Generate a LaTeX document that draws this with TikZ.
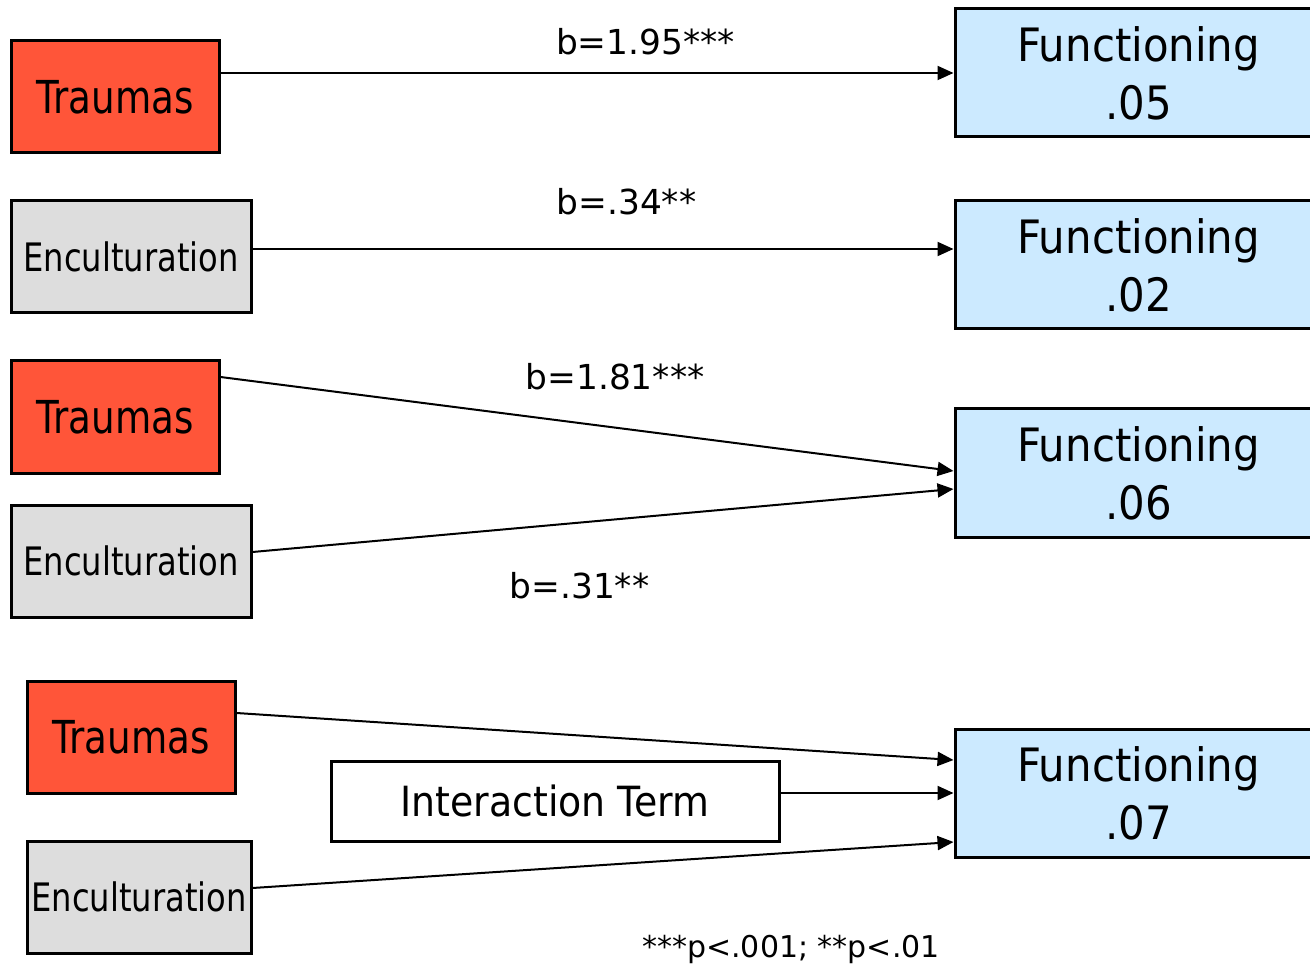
\documentclass[tikz,border=0pt]{standalone}
\usepackage{fontspec}
\setmainfont{DejaVu Sans}
\newfontfamily\boxfont[FakeStretch=0.82]{DejaVu Sans}
\newfontfamily\funcfont[FakeStretch=0.91]{DejaVu Sans}
\usetikzlibrary{arrows.meta}
\definecolor{traumared}{RGB}{255,85,57}
\definecolor{encgray}{RGB}{221,221,221}
\definecolor{funcblue}{RGB}{204,234,255}
\tikzset{
  box/.style={draw, line width=1.5pt, inner sep=0pt},
  trauma/.style={box, fill=traumared, minimum width=104pt, minimum height=56pt,
    font=\boxfont\fontsize{22.7}{26}\selectfont},
  enc/.style={box, fill=encgray, minimum width=120pt, minimum height=56pt,
    font=\boxfont\fontsize{19.6}{23}\selectfont},
  func/.style={box, fill=funcblue, minimum width=183.5pt, minimum height=64pt,
    align=center, font=\funcfont\fontsize{23}{29}\selectfont},
  term/.style={box, fill=white, minimum width=224pt, minimum height=40pt,
    font=\funcfont\fontsize{20.8}{24}\selectfont},
  coef/.style={anchor=base, inner sep=0pt, font=\fontsize{17.2}{20}\selectfont},
  path/.style={line width=1pt, -{Triangle[length=8pt, width=7pt]}}
}
\begin{document}
\begin{tikzpicture}[x=0.5pt, y=-0.5pt]
  \useasboundingbox (0,0) rectangle (1310,967);
  % model 1
  \node[trauma] (t1) at (115,97) {Traumas};
  \node[func] (f1) at (1138.5,73) {Functioning\\.05};
  % model 2
  \node[enc] (e1) at (131,257) {Enculturation};
  \node[func] (f2) at (1138.5,265) {Functioning\\.02};
  % model 3
  \node[trauma] (t2) at (115,417) {Traumas};
  \node[enc] (e2) at (131,561) {Enculturation};
  \node[func] (f3) at (1138.5,473) {Functioning\\.06};
  % model 4
  \node[trauma] (t3) at (131,737) {Traumas};
  \node[enc, minimum width=112pt] (e3) at (139,897) {Enculturation};
  \node[term] (it) at (555,801) {Interaction Term};
  \node[func] (f4) at (1138.5,793) {Functioning\\.07};
  % coefficients
  \node[coef] (b1) at (645.5,55) {b=1.95***};
  \node[coef] (b2) at (626.5,215) {b=.34**};
  \node[coef] (b3) at (615,390) {b=1.81***};
  \node[coef] (b4) at (579.5,598) {b=.31**};
  \node[coef, font=\fontsize{15}{18}\selectfont] (note) at (791,957) {***p<.001; **p<.01};
  \begin{scope}[path]
    \draw ([yshift=12pt]t1.east) to (f1.west);
    \draw ([yshift=4pt]e1.east) to ([yshift=8pt]f2.west);
    \draw ([yshift=20pt]t2.east) to ([yshift=1pt]f3.west);
    \draw ([yshift=4.5pt]e2.east) to ([yshift=-8pt]f3.west);
    \draw ([yshift=12pt]t3.east) to ([yshift=16.5pt]f4.west);
    \draw ([yshift=4pt]it.east) to (f4.west);
    \draw ([yshift=4.5pt]e3.east) to ([yshift=-24.5pt]f4.west);
  \end{scope}
\end{tikzpicture}
\end{document}
